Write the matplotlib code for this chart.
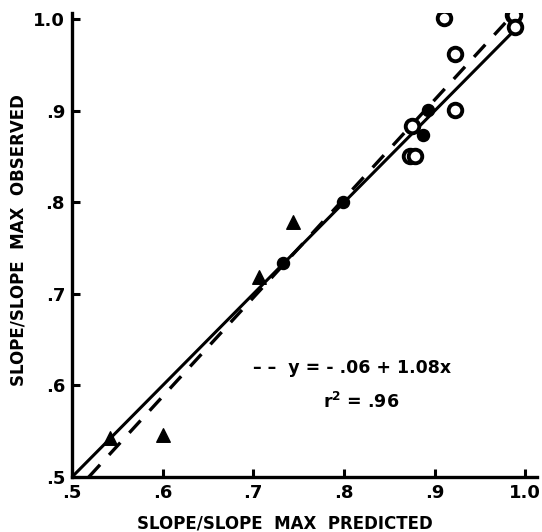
import matplotlib
matplotlib.use("Agg")
import matplotlib.pyplot as plt
import numpy as np

# Data
tri_x = [0.542, 0.600, 0.706, 0.744]
tri_y = [0.543, 0.546, 0.719, 0.779]

fill_x = [0.733, 0.799, 0.887, 0.893]
fill_y = [0.734, 0.801, 0.874, 0.901]

open_x = [0.873, 0.878, 0.875, 0.922, 0.922, 0.910, 0.986, 0.988, 0.989]
open_y = [0.851, 0.851, 0.884, 0.901, 0.962, 1.001, 1.005, 1.005, 0.992]

identity_x = [0.5, 0.989]
reg_intercept = -0.06
reg_slope = 1.08
reg_x = [0.5185, 0.978]

xticks = [0.5, 0.6, 0.7, 0.8, 0.9, 1.0]
xticklabels = [".5", ".6", ".7", ".8", ".9", "1.0"]
yticks = [0.5, 0.6, 0.7, 0.8, 0.9, 1.0]
yticklabels = [".5", ".6", ".7", ".8", ".9", "1.0"]

W, H = 542, 532
fig = plt.figure(figsize=(W/100, H/100), dpi=100)
ax = fig.add_axes([72/W, 55/H, (537-72)/W, (477-13)/H])

ax.plot(identity_x, identity_x, color="black", lw=2.2, solid_capstyle="butt")
rx = np.array(reg_x)
ax.plot(rx, reg_intercept + reg_slope * rx, color="black", lw=2.4,
        dashes=(5, 4))

ax.scatter(tri_x, tri_y, marker="^", s=95, color="black", zorder=3)
ax.scatter(fill_x, fill_y, marker="o", s=75, color="black", zorder=3)
ax.scatter(open_x, open_y, marker="o", s=95, facecolor="white",
           edgecolor="black", linewidths=2.8, zorder=3)

ax.set_xlim(0.5, 1.013)
ax.set_ylim(0.5, 1.007)
ax.set_xticks(xticks)
ax.set_xticklabels(xticklabels)
ax.set_yticks(yticks)
ax.set_yticklabels(yticklabels)

for s in ["top", "right"]:
    ax.spines[s].set_visible(False)
for s in ["left", "bottom"]:
    ax.spines[s].set_linewidth(2.4)

ax.tick_params(direction="in", length=6, width=2.2, labelsize=13, pad=5)
for lab in ax.get_xticklabels() + ax.get_yticklabels():
    lab.set_fontweight("bold")

fig.text(285/W, 1 - 523/H, "SLOPE/SLOPE  MAX  PREDICTED", fontsize=12,
         fontweight="bold", ha="center", va="center")
fig.text(19/W, 1 - 240/H, "SLOPE/SLOPE  MAX  OBSERVED", fontsize=12,
         fontweight="bold", ha="center", va="center", rotation=90)

ax.text(0.700, 0.619, "– –  y = - .06 + 1.08x", fontsize=12.5,
        fontweight="bold", va="center", ha="left")
ax.text(0.777, 0.582, "r$^{\\mathbf{2}}$ = .96", fontsize=12.5,
        fontweight="bold", va="center", ha="left")

fig.savefig("out.png", dpi=100)
